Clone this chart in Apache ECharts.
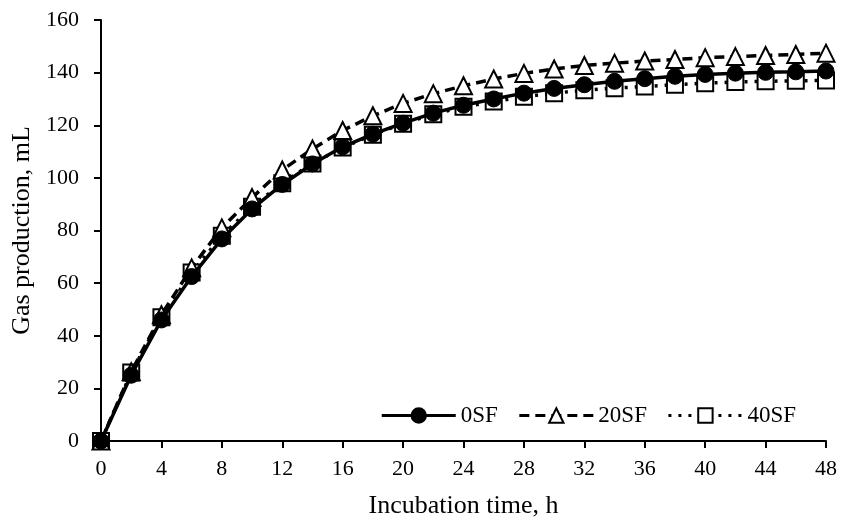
<!DOCTYPE html>
<html>
<head>
<meta charset="utf-8">
<script src="https://cdn.jsdelivr.net/npm/echarts@6/dist/echarts.min.js"></script>
<style>
    html, body { margin: 0; padding: 0; background: #fff; }
    #chart { width: 842px; height: 521px; }
</style>
</head>
<body>
<div id="chart"></div>
<script>
const hours = [0, 2, 4, 6, 8, 10, 12, 14, 16, 18, 20, 22, 24, 26, 28, 30, 32, 34, 36, 38, 40, 42, 44, 46, 48]
const sf0 = [0, 25, 46, 62.5, 76.8, 88.2, 97.5, 105.3, 111.8, 116.6, 120.8, 124.6, 127.6, 130, 132.2, 134, 135.4, 136.7, 137.7, 138.6, 139.3, 139.8, 140.1, 140.3, 140.6]
const sf20 = [0, 26.3, 48, 65.8, 81, 92.5, 103, 111, 118, 123.6, 128.3, 132, 135, 137.6, 139.7, 141.4, 142.7, 143.6, 144.4, 145, 145.7, 146.1, 146.5, 146.9, 147.4]
const sf40 = [0, 26, 47, 64, 78, 89, 98, 105.5, 111.5, 116.4, 120.6, 124.2, 127, 129, 130.8, 132.2, 133.3, 134.1, 134.7, 135.4, 136, 136.4, 136.7, 136.9, 137]

const font = 'Liberation Serif'
const pairs = (vals) => hours.map((h, i) => [h, vals[i]])

const chart = echarts.init(document.getElementById('chart'))

chart.setOption({
    backgroundColor: '#fff',
    animation: false,
    textStyle: { fontFamily: font },
    grid: {
        left: 101,
        right: 16,
        top: 20,
        bottom: 80,
        containLabel: false,
        outerBoundsMode: 'none',
    },
    legend: {
        data: ['0SF', '20SF', '40SF'],
        right: 41,
        top: 399,
        itemWidth: 74,
        itemHeight: 18,
        itemGap: 20,
        lineStyle: { width: 3 },
        textStyle: {
            fontFamily: font,
            fontSize: 23,
            color: '#000',
        },
    },
    xAxis: {
        type: 'value',
        min: 0,
        max: 48,
        interval: 4,
        name: 'Incubation time, h',
        nameLocation: 'middle',
        nameGap: 52,
        nameTextStyle: { fontFamily: font, fontSize: 26, color: '#000' },
        axisLine: { lineStyle: { color: '#000', width: 2 } },
        axisTick: { show: true, inside: false, length: 7, lineStyle: { color: '#000', width: 2 } },
        axisLabel: { color: '#000', fontSize: 22, fontFamily: font, margin: 17 },
        splitLine: { show: false },
    },
    yAxis: {
        type: 'value',
        min: 0,
        max: 160,
        interval: 20,
        name: 'Gas production, mL',
        nameLocation: 'middle',
        nameGap: 60,
        nameTextStyle: { fontFamily: font, fontSize: 26, color: '#000' },
        axisLine: { show: true, lineStyle: { color: '#000', width: 2 } },
        axisTick: { show: true, inside: false, length: 7, lineStyle: { color: '#000', width: 2 } },
        axisLabel: { color: '#000', fontSize: 22, fontFamily: font, margin: 22 },
        splitLine: { show: false },
    },
    series: [
        {
            name: '0SF',
            type: 'line',
            z: 4,
            data: pairs(sf0),
            symbol: 'circle',
            symbolSize: 16,
            lineStyle: { color: '#000', width: 3.5, type: 'solid' },
            itemStyle: { color: '#000', borderColor: '#000', borderWidth: 1 },
        },
        {
            name: '20SF',
            type: 'line',
            z: 3,
            data: pairs(sf20),
            symbol: 'triangle',
            symbolSize: 17,
            lineStyle: { color: '#000', width: 3.5, type: [10, 6] },
            itemStyle: { color: '#fff', borderColor: '#000', borderWidth: 2 },
        },
        {
            name: '40SF',
            type: 'line',
            z: 2,
            data: pairs(sf40),
            symbol: 'rect',
            symbolSize: 16,
            lineStyle: { color: '#000', width: 3.5, type: [3, 7] },
            itemStyle: { color: '#fff', borderColor: '#000', borderWidth: 2 },
        },
    ],
})
</script>
</body>
</html>
